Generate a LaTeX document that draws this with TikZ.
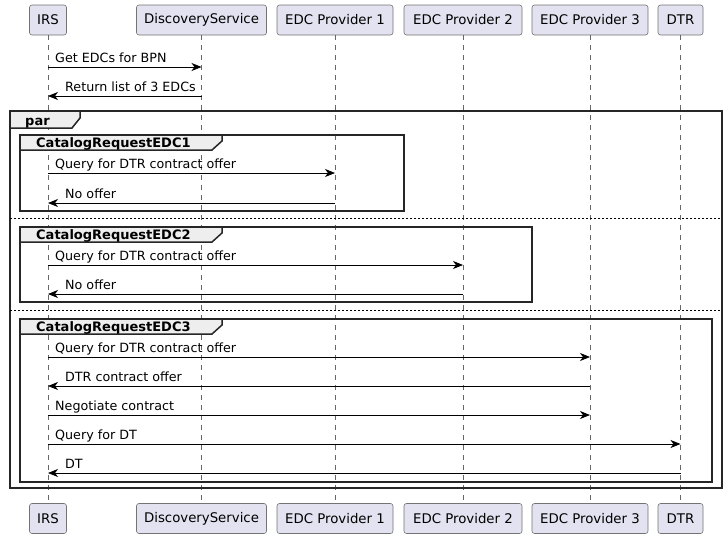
\documentclass[tikz,border=0pt]{standalone}
\usepackage{fontspec}
\setmainfont{DejaVu Sans}
\usetikzlibrary{arrows.meta}
\definecolor{partfill}{HTML}{E2E2F0}
\definecolor{tabfill}{HTML}{EEEEEE}
\tikzset{
  part/.style={draw=black!55, fill=partfill, rounded corners=2.5pt, line width=0.6pt,
    minimum height=30pt, inner sep=0pt, font=\fontsize{13.3}{16}\selectfont, text=black},
  life/.style={draw=black!60, line width=0.6pt, dash pattern=on 5pt off 5pt},
  msgline/.style={line width=0.8pt, -{Stealth[length=10pt,width=8pt,inset=3pt]}},
  msgtext/.style={anchor=base west, inner sep=0pt, font=\fontsize{12.7}{15}\selectfont},
  frameline/.style={line width=1.5pt, draw=black!85},
  tabtext/.style={anchor=base west, inner sep=0pt, font=\fontsize{13}{15}\selectfont\bfseries},
  sepline/.style={line width=0.8pt, dash pattern=on 2pt off 2pt}
}
\begin{document}
\begin{tikzpicture}[x=1pt,y=-1pt]
\useasboundingbox (0,0) rectangle (728,539);
% participants top
\node[part, minimum width=37pt]  (irsT)  at (48,20)    {IRS};
\node[part, minimum width=130pt] (discT) at (201.5,20) {DiscoveryService};
\node[part, minimum width=116pt] (e1T)   at (335,20)   {EDC Provider 1};
\node[part, minimum width=118pt] (e2T)   at (463,20)   {EDC Provider 2};
\node[part, minimum width=116pt] (e3T)   at (590,20)   {EDC Provider 3};
\node[part, minimum width=45pt]  (dtrT)  at (680.5,20) {DTR};
% participants bottom
\node[part, minimum width=37pt]  (irsB)  at (48,518.5)    {IRS};
\node[part, minimum width=130pt] (discB) at (201.5,518.5) {DiscoveryService};
\node[part, minimum width=116pt] (e1B)   at (335,518.5)   {EDC Provider 1};
\node[part, minimum width=118pt] (e2B)   at (463,518.5)   {EDC Provider 2};
\node[part, minimum width=116pt] (e3B)   at (590,518.5)   {EDC Provider 3};
\node[part, minimum width=45pt]  (dtrB)  at (680.5,518.5) {DTR};
% lifelines
\foreach \p in {irs,disc,e1,e2,e3,dtr}{
  \draw[life] (\p T.south) -- (\p B.north);
}
% frames
\draw[frameline] (10,111) rectangle (722,488);
\draw[frameline, fill=tabfill] (10,111) -- (80,111) -- (80,118) -- (72,128) -- (10,128) -- cycle;
\node[tabtext] (parlbl) at (25,125) {par};

\draw[frameline] (20,135) rectangle (404,211);
\draw[frameline, fill=tabfill] (20,135) -- (222,135) -- (222,141) -- (212,150) -- (20,150) -- cycle;
\node[tabtext] (g1lbl) at (36,147.5) {CatalogRequestEDC1};

\draw[sepline] (10,218) -- (722,218);

\draw[frameline] (20,227) rectangle (532,302);
\draw[frameline, fill=tabfill] (20,227) -- (222,227) -- (222,233) -- (212,242) -- (20,242) -- cycle;
\node[tabtext] (g2lbl) at (36,239.5) {CatalogRequestEDC2};

\draw[sepline] (10,310) -- (722,310);

\draw[frameline] (20,319) rectangle (712,482);
\draw[frameline, fill=tabfill] (20,319) -- (222,319) -- (222,325) -- (212,334) -- (20,334) -- cycle;
\node[tabtext] (g3lbl) at (36,331.5) {CatalogRequestEDC3};

% message anchor coordinates
\foreach \y/\n in {67/1,96/2,173/3,203/4,265/5,294/6,357/7,386/8,415/9,444/10,473/11}{
  \coordinate (irs\n) at (irsT.south |- 0,\y);
}
\coordinate (disc1) at (discT.south |- 0,67);
\coordinate (disc2) at (discT.south |- 0,96);
\coordinate (e1m3) at (e1T.south |- 0,173);
\coordinate (e1m4) at (e1T.south |- 0,203);
\coordinate (e2m5) at (e2T.south |- 0,265);
\coordinate (e2m6) at (e2T.south |- 0,294);
\coordinate (e3m7) at (e3T.south |- 0,357);
\coordinate (e3m8) at (e3T.south |- 0,386);
\coordinate (e3m9) at (e3T.south |- 0,415);
\coordinate (dtrm10) at (dtrT.south |- 0,444);
\coordinate (dtrm11) at (dtrT.south |- 0,473);

% messages
\draw[msgline] (irs1) -- (disc1);
\node[msgtext] (t1) at (55,62) {Get EDCs for BPN};
\draw[msgline] (disc2) -- (irs2);
\node[msgtext] (t2) at (65,91) {Return list of 3 EDCs};

\draw[msgline] (irs3) -- (e1m3);
\node[msgtext] (t3) at (55,168) {Query for DTR contract offer};
\draw[msgline] (e1m4) -- (irs4);
\node[msgtext] (t4) at (65,198) {No offer};

\draw[msgline] (irs5) -- (e2m5);
\node[msgtext] (t5) at (55,260) {Query for DTR contract offer};
\draw[msgline] (e2m6) -- (irs6);
\node[msgtext] (t6) at (65,289) {No offer};

\draw[msgline] (irs7) -- (e3m7);
\node[msgtext] (t7) at (55,352) {Query for DTR contract offer};
\draw[msgline] (e3m8) -- (irs8);
\node[msgtext] (t8) at (65,381) {DTR contract offer};
\draw[msgline] (irs9) -- (e3m9);
\node[msgtext] (t9) at (55,410) {Negotiate contract};
\draw[msgline] (irs10) -- (dtrm10);
\node[msgtext] (t10) at (55,439) {Query for DT};
\draw[msgline] (dtrm11) -- (irs11);
\node[msgtext] (t11) at (65,468) {DT};
\end{tikzpicture}
\end{document}
